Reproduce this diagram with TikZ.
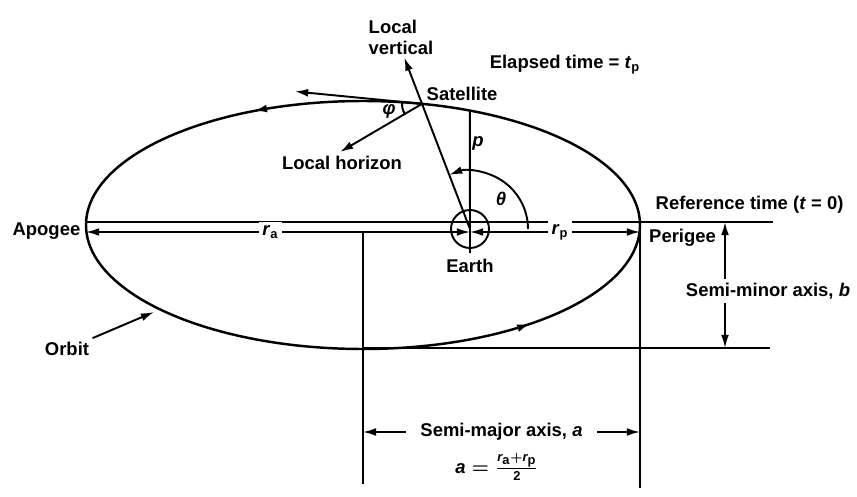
\documentclass[tikz,border=0pt]{standalone}
\usepackage{amsmath}
\usepackage{fontspec}
\setmainfont{Liberation Sans}
\usetikzlibrary{calc,arrows.meta,decorations.markings}
\newcommand{\rapo}{\textit{r}\textsubscript{a}}
\newcommand{\rper}{\textit{r}\textsubscript{p}}

\begin{document}
\begin{tikzpicture}[line width=1.1pt, >={Latex[length=7.5pt,width=4.5pt]},
  every node/.style={font=\fontsize{10.5}{12}\selectfont\bfseries\boldmath, inner sep=1pt},
  gap/.style={fill=white, inner sep=2pt}]
  \useasboundingbox (0,0) rectangle (17.14,9.92);
  % Orbit, counterclockwise
  \coordinate (O) at (7.26,5.42);
  \coordinate (apogee) at (1.72,5.42);
  \coordinate (perigee) at (12.8,5.42);
  \draw[line width=1.4pt, postaction={decorate}, decoration={markings,
      mark=at position 0.334 with {\arrow{>}},
      mark=at position 0.88 with {\arrow{>}}}]
    (perigee) arc[start angle=0, end angle=360, x radius=5.54, y radius=2.48];
  \coordinate (sat) at ([shift={(O)}] 77.7:5.54 and 2.48);
  \coordinate (ptop) at ([shift={(O)}] 67.3:5.54 and 2.48);
  % Earth
  \node (earth) [circle, draw, minimum size=0.76cm, inner sep=0pt] at (9.4,5.34) {};
  \node (earthlbl) at (9.4,4.6) {Earth};
  % Reference line and radii
  \coordinate (axl) at (1.72,5.48);
  \coordinate (axr) at (15.46,5.48);
  \draw (axl) -- (axr);
  \coordinate (ea) at (1.72,5.28);
  \coordinate (ec) at (9.4,5.28);
  \coordinate (ep) at (12.8,5.28);
  \draw[<->] (ea) -- node[gap, pos=.48] {\rapo} (ec);
  \draw[<->] (ec) -- node[gap, pos=.53] {\rper} (ep);
  % p through Earth
  \coordinate (pbot) at (9.4,4.86);
  \draw (ptop) -- (pbot);
  \node (plbl) at (9.56,7.06) {\textit{p}};
  % Local vertical
  \draw[->] (earth.center) -- ($(earth.center)!1.37!(sat)$) coordinate (lv);
  \node (lvlbl) [anchor=west, align=left] at (7.32,9.17) {Local\\vertical};
  % Velocity and local horizon
  \coordinate (vel) at (5.9,8.09);
  \coordinate (hor) at (6.8,6.88);
  \draw[->] (sat) -- (vel);
  \draw[->] (sat) -- (hor);
  \draw (sat) ++(174.4:0.4) arc[start angle=174.4, end angle=210.3, radius=0.4];
  \node (philbl) at (7.78,7.7) {\textit{φ}};
  \node (hlbl) at (6.84,6.66) {Local horizon};
  % True anomaly
  \draw[->] (earth.center) ++(0:1.16) arc[start angle=0, end angle=111, radius=1.16];
  \node (thlbl) at (10.02,5.94) {\textit{θ}};
  % Labels
  \node (satlbl) [anchor=west] at (8.48,8.04) {Satellite};
  \node (tlbl) at (11.3,8.62) {Elapsed time = \textit{t}\textsubscript{p}};
  \node (apolbl) [anchor=east] at (1.66,5.3) {Apogee};
  \node (perlbl) [anchor=west] at (12.93,5.16) {Perigee};
  \node (reflbl) [anchor=west] at (13.06,5.82) {Reference time (\textit{t} = 0)};
  % Semi-minor axis
  \coordinate (bl) at (7.26,2.96);
  \coordinate (br) at (15.4,2.96);
  \draw (bl) -- (br);
  \coordinate (bt) at (14.5,5.48);
  \coordinate (bb) at (14.5,2.96);
  \draw[<->] (bt) -- (bb);
  \node (blbl) [gap] at (15.36,4.1) {Semi-minor axis, \textit{b}};
  % Semi-major axis
  \coordinate (al) at (7.26,0.24);
  \coordinate (ar) at (12.8,0.16);
  \draw (ec -| bl) -- (al);
  \draw (perigee) -- (ar);
  \coordinate (sl) at (7.26,1.28);
  \coordinate (sr) at (12.8,1.28);
  \draw[<->] (sl) -- node[gap, inner xsep=8pt] {Semi-major axis, \textit{a}} (sr);
  \node (alabel) at (9.94,0.58) {$\textit{a} = \frac{\rapo + \rper}{\text{2}}$};
  % Orbit pointer
  \node (orbitlbl) at (1.34,2.94) {Orbit};
  \coordinate (orbitpt) at (3.08,3.68);
  \draw[->, shorten <=2pt] (orbitlbl) -- (orbitpt);
\end{tikzpicture}
\end{document}
